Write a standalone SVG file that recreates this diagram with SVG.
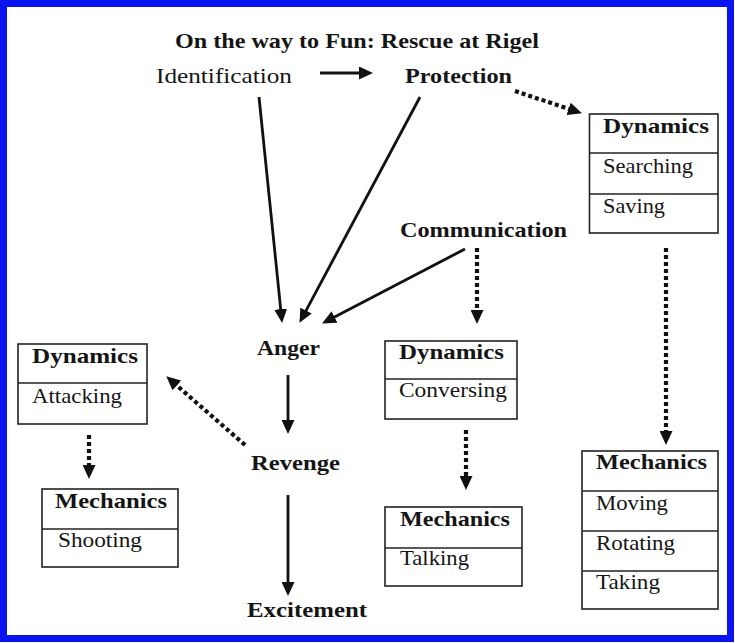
<svg xmlns="http://www.w3.org/2000/svg" width="735" height="643" viewBox="0 0 735 643">
  <defs>
    <style>
      text { font-family: "Liberation Serif", "Times New Roman", serif; font-size: 21px; fill: #151515; }
      .b { font-weight: bold; }
      .box { fill: #ffffff; stroke: #222222; stroke-width: 1.6; }
      .sep { stroke: #222222; stroke-width: 1.4; }
      .solid { stroke: #111111; stroke-width: 2.8; fill: none; }
      .dot { stroke: #111111; stroke-width: 4.2; stroke-dasharray: 4 3; fill: none; }
    </style>
    <marker id="head" viewBox="0 0 14 13" refX="1" refY="6.5" markerWidth="14" markerHeight="13" markerUnits="userSpaceOnUse" orient="auto">
      <path d="M0,0 L14,6.5 L0,13 z" fill="#111111"/>
    </marker>
  </defs>

  <!-- frame -->
  <rect x="0" y="0" width="735" height="643" fill="#ffffff"/>
  <rect x="3.5" y="3.5" width="727" height="635" fill="none" stroke="#0a14f0" stroke-width="7"/>

  <!-- title -->
  <text id="title" class="b" x="175" y="48" textLength="364" lengthAdjust="spacingAndGlyphs">On the way to Fun: Rescue at Rigel</text>

  <!-- free-standing concept nodes -->
  <g id="identification"><text x="156" y="83" textLength="136" lengthAdjust="spacingAndGlyphs">Identification</text></g>
  <g id="protection"><text class="b" x="405" y="83" textLength="107" lengthAdjust="spacingAndGlyphs">Protection</text></g>
  <g id="communication"><text class="b" x="400" y="237" textLength="167" lengthAdjust="spacingAndGlyphs">Communication</text></g>
  <g id="anger"><text class="b" x="257" y="355" textLength="63" lengthAdjust="spacingAndGlyphs">Anger</text></g>
  <g id="revenge"><text class="b" x="251" y="470" textLength="89" lengthAdjust="spacingAndGlyphs">Revenge</text></g>
  <g id="excitement"><text class="b" x="247" y="617" textLength="120" lengthAdjust="spacingAndGlyphs">Excitement</text></g>

  <!-- Dynamics: Searching / Saving -->
  <g id="dyn-search">
    <rect class="box" x="589.5" y="114" width="128.5" height="119"/>
    <line class="sep" x1="589.5" y1="153" x2="718" y2="153"/>
    <line class="sep" x1="589.5" y1="194" x2="718" y2="194"/>
    <text class="b" x="603" y="133" textLength="106" lengthAdjust="spacingAndGlyphs">Dynamics</text>
    <text x="603" y="173" textLength="90" lengthAdjust="spacingAndGlyphs">Searching</text>
    <text x="603" y="213" textLength="62" lengthAdjust="spacingAndGlyphs">Saving</text>
  </g>

  <!-- Dynamics: Conversing -->
  <g id="dyn-converse">
    <rect class="box" x="385" y="341" width="132" height="78"/>
    <line class="sep" x1="385" y1="379" x2="517" y2="379"/>
    <text class="b" x="399" y="359" textLength="105" lengthAdjust="spacingAndGlyphs">Dynamics</text>
    <text x="399" y="397" textLength="108" lengthAdjust="spacingAndGlyphs">Conversing</text>
  </g>

  <!-- Dynamics: Attacking -->
  <g id="dyn-attack">
    <rect class="box" x="18" y="344" width="129" height="80"/>
    <line class="sep" x1="18" y1="383" x2="147" y2="383"/>
    <text class="b" x="32" y="363" textLength="106" lengthAdjust="spacingAndGlyphs">Dynamics</text>
    <text x="32" y="403" textLength="90" lengthAdjust="spacingAndGlyphs">Attacking</text>
  </g>

  <!-- Mechanics: Shooting -->
  <g id="mech-shoot">
    <rect class="box" x="42" y="489" width="136" height="78"/>
    <line class="sep" x1="42" y1="529" x2="178" y2="529"/>
    <text class="b" x="55" y="508" textLength="112" lengthAdjust="spacingAndGlyphs">Mechanics</text>
    <text x="58" y="547" textLength="84" lengthAdjust="spacingAndGlyphs">Shooting</text>
  </g>

  <!-- Mechanics: Talking -->
  <g id="mech-talk">
    <rect class="box" x="385" y="507" width="137" height="79"/>
    <line class="sep" x1="385" y1="548" x2="522" y2="548"/>
    <text class="b" x="400" y="526" textLength="110" lengthAdjust="spacingAndGlyphs">Mechanics</text>
    <text x="400" y="565" textLength="69" lengthAdjust="spacingAndGlyphs">Talking</text>
  </g>

  <!-- Mechanics: Moving / Rotating / Taking -->
  <g id="mech-move">
    <rect class="box" x="582" y="451" width="136" height="158"/>
    <line class="sep" x1="582" y1="491" x2="718" y2="491"/>
    <line class="sep" x1="582" y1="531" x2="718" y2="531"/>
    <line class="sep" x1="582" y1="571" x2="718" y2="571"/>
    <text class="b" x="596" y="469" textLength="111" lengthAdjust="spacingAndGlyphs">Mechanics</text>
    <text x="596" y="510" textLength="72" lengthAdjust="spacingAndGlyphs">Moving</text>
    <text x="596" y="550" textLength="79" lengthAdjust="spacingAndGlyphs">Rotating</text>
    <text x="596" y="589" textLength="64" lengthAdjust="spacingAndGlyphs">Taking</text>
  </g>

  <!-- connectors: solid = causal flow, dotted = realised by -->
  <g id="connectors" marker-end="url(#head)">
    <line class="solid" x1="320" y1="73" x2="360" y2="73"/>
    <line class="solid" x1="259" y1="97" x2="280.8" y2="310.1"/>
    <line class="solid" x1="420" y1="97" x2="305.6" y2="311.4"/>
    <line class="solid" x1="465" y1="249" x2="333.6" y2="317.5"/>
    <line class="solid" x1="288" y1="375" x2="288" y2="421"/>
    <line class="solid" x1="288" y1="495" x2="288" y2="583"/>
    <line class="dot" x1="515" y1="91" x2="569.6" y2="109.2"/>
    <line class="dot" x1="666" y1="248" x2="666" y2="432"/>
    <line class="dot" x1="477" y1="248" x2="477" y2="311"/>
    <line class="dot" x1="466" y1="430" x2="466" y2="477"/>
    <line class="dot" x1="245" y1="445" x2="176.1" y2="384.9"/>
    <line class="dot" x1="89" y1="435" x2="89" y2="466"/>
  </g>
</svg>
